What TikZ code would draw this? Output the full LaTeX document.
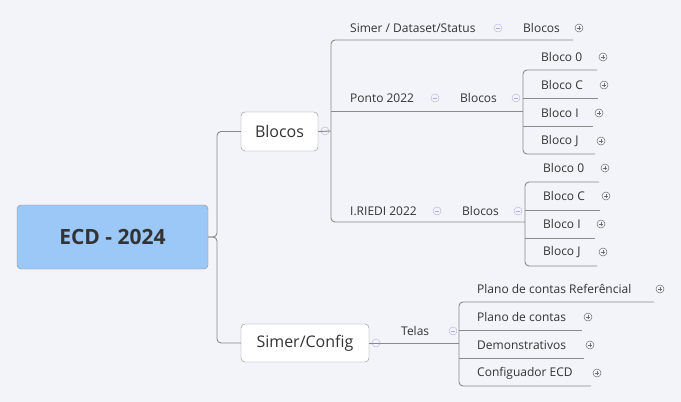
\documentclass[tikz,border=0pt]{standalone}
\usepackage{fontspec}
\setmainfont{Open Sans}
\usetikzlibrary{positioning}
\definecolor{bg}{HTML}{F3F4F9}
\definecolor{ln}{HTML}{8A8A8A}
\definecolor{rootfill}{HTML}{9CC8F8}
\definecolor{tx}{HTML}{333333}
\begin{document}
\begin{tikzpicture}[x=1pt,y=-1pt,
    line/.style={draw=ln,line width=0.9pt,rounded corners=4pt},
    lbl/.style={anchor=west,inner sep=0pt,font=\fontsize{12}{14}\selectfont,text=tx},
    box/.style={draw=ln,rounded corners=4pt,fill=white,font=\fontsize{16}{19}\selectfont,text=tx,inner sep=0pt},
    minus/.style={circle,draw=ln!60!blue!40,fill=bg,minimum size=8pt,inner sep=0pt,line width=0.5pt,
      path picture={\draw[ln!60!blue!50,line width=0.6pt] ([xshift=-2.2pt]path picture bounding box.center) -- ([xshift=2.2pt]path picture bounding box.center);}},
    plus/.style={circle,draw=ln!80!black,fill=bg,minimum size=8pt,inner sep=0pt,line width=0.5pt,
      path picture={\draw[ln!80!black,line width=0.6pt] ([xshift=-2.2pt]path picture bounding box.center) -- ([xshift=2.2pt]path picture bounding box.center)
        ([yshift=-2.2pt]path picture bounding box.center) -- ([yshift=2.2pt]path picture bounding box.center);}}]
  \fill[bg] (0,0) rectangle (681,402);
  \useasboundingbox (0,0) rectangle (681,402);

  % main boxes
  \node[box,fill=rootfill,minimum width=191pt,minimum height=64pt,
    font=\fontsize{21}{24}\selectfont\bfseries] (ecd) at (112.5,237) {ECD - 2024};
  \node[box,minimum width=77pt,minimum height=39pt] (blocos) at (279.5,131.5) {Blocos};
  \node[box,minimum width=128pt,minimum height=38pt] (config) at (305,343) {Simer/Config};
  \path[line] (ecd.east) -- (217,237) |- (blocos.west);
  \path[line] (ecd.east) -- (217,237) |- (config.west);

  % Blocos branch
  \node[minus] (mb) at (325,131) {};
  \coordinate (top) at (573,40);
  \coordinate (ponto) at (523,111);
  \coordinate (riedi) at (525,222);
  \path[line] (blocos.east) -- (331,131);
  \path[line] (top) -- (331,40) -- (331,222) -- (riedi);
  \path[line] (331,111) -- (ponto);

  \node[lbl] (simer) at (350,28) {Simer / Dataset/Status};
  \node[minus] (ms) at (498,28) {};
  \node[lbl] (sb) at (523,28) {Blocos};
  \node[plus] (ps) at (579,28) {};

  \node[lbl] (pt) at (350,98) {Ponto 2022};
  \node[minus] (mp) at (435,98) {};
  \node[lbl] (pb) at (460,98) {Blocos};
  \node[minus] (mpb) at (516,98) {};

  \node[lbl] (ri) at (350,211) {I.RIEDI 2022};
  \node[minus] (mr) at (437,211) {};
  \node[lbl] (rb) at (462,211) {Blocos};
  \node[minus] (mrb) at (518,211) {};

  % Bloco children
  \foreach \n/\t/\e/\p [count=\i from 0] in {0/0/597/603,c/C/598/604,i/I/593/599,j/J/595/601} {
    \node[lbl] (p\n) at (541,57+28*\i) {Bloco \t};
    \node[plus] at (\p,57+28*\i) {};
    \coordinate (pe\n) at (\e,70+28*\i);
    \node[lbl] (r\n) at (543,168+28*\i) {Bloco \t};
    \node[plus] at (\p+2,168+28*\i) {};
    \coordinate (re\n) at (\e+2,182+28*\i);
  }
  \path[line] (pe0) -- (523,70) -- (523,154) -- (pej);
  \path[line] (523,98) -- (pec);
  \path[line] (523,126) -- (pei);
  \path[line] (re0) -- (525,182) -- (525,266) -- (rej);
  \path[line] (525,210) -- (rec);
  \path[line] (525,238) -- (rei);

  % Simer/Config branch
  \node[minus] (mc) at (376,343) {};
  \node[lbl] (telas) at (401,331) {Telas};
  \node[minus] (mt) at (453,331) {};
  \path[line] (config.east) -- (459,343);
  \foreach \t/\e/\p [count=\i from 0] in {Plano de contas Referêncial/654/660,Plano de contas/582/588,
      Demonstrativos/584/590,Configuador ECD/591/597} {
    \node[lbl] (t\i) at (477,289+28*\i) {\t};
    \node[plus] at (\p,289+28*\i) {};
    \coordinate (te\i) at (\e,302+28*\i);
  }
  \path[line] (te0) -- (459,302) -- (459,386) -- (te3);
  \path[line] (459,330) -- (te1);
  \path[line] (459,358) -- (te2);
\end{tikzpicture}
\end{document}
